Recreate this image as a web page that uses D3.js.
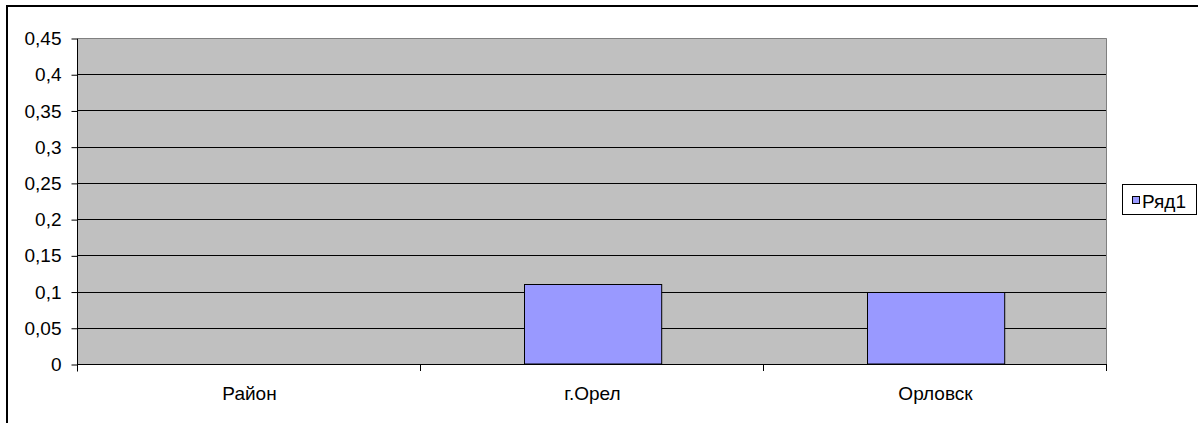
<!DOCTYPE html>
<html>
<head>
<meta charset="utf-8">
<script src="https://cdn.jsdelivr.net/npm/d3@7"></script>
<style>
  html, body { margin: 0; padding: 0; background: #ffffff; }
  svg { display: block; }
  text { font-family: "Liberation Sans", Arial, sans-serif; fill: #000; }
</style>
</head>
<body>
<svg id="chart" width="1198" height="423"></svg>
<script>
// Chart data
const categories = ["Район", "г.Орел", "Орловск"];
const seriesName = "Ряд1";
const seriesValues = [0, 0.11, 0.1];
const yTickValues = [0, 0.05, 0.1, 0.15, 0.2, 0.25, 0.3, 0.35, 0.4, 0.45];

const svg = d3.select("#chart");
const fontSize = 19;

// Plot area
const plot = { left: 78, top: 38, right: 1107, bottom: 364 };

// Comma decimal separator for tick labels
const ru = d3.formatLocale({ decimal: ",", thousands: " ", grouping: [3], currency: ["", " ₽"] });
const fmt = ru.format("~g");

const y = d3.scaleLinear().domain([0, 0.45]).range([plot.bottom, plot.top]);
const x = d3.scaleBand().domain(categories)
  .range([plot.left, plot.right])
  .paddingInner(0.6).paddingOuter(0.3);

// Outer chart frame (continues past the bottom/right edge)
svg.append("rect")
  .attr("x", 7).attr("y", 6)
  .attr("width", 1210).attr("height", 500)
  .attr("fill", "#ffffff").attr("stroke", "#000").attr("stroke-width", 2);

// Plot background
svg.append("rect")
  .attr("x", plot.left).attr("y", plot.top)
  .attr("width", plot.right - plot.left).attr("height", plot.bottom - plot.top)
  .attr("fill", "#c0c0c0");

// Horizontal gridlines
svg.append("g").selectAll("line")
  .data(yTickValues.filter(v => v > 0 && v < 0.45))
  .join("line")
  .attr("x1", plot.left).attr("x2", plot.right)
  .attr("y1", d => Math.round(y(d)) + 0.5).attr("y2", d => Math.round(y(d)) + 0.5)
  .attr("stroke", "#000").attr("stroke-width", 1);

// Plot area border (top and right)
svg.append("path")
  .attr("d", `M${plot.left},${plot.top + 0.5}H${plot.right - 0.5}V${plot.bottom}`)
  .attr("fill", "none").attr("stroke", "#808080").attr("stroke-width", 1);

// Bars
svg.append("g").selectAll("rect")
  .data(seriesValues.map((v, i) => ({ cat: categories[i], v })).filter(d => d.v > 0))
  .join("rect")
  .attr("x", d => Math.round(x(d.cat)) + 0.5)
  .attr("y", d => Math.round(y(d.v)) + 0.5)
  .attr("width", x.bandwidth())
  .attr("height", d => y(0) - Math.round(y(d.v)) - 0.5)
  .attr("fill", "#9999ff").attr("stroke", "#000").attr("stroke-width", 1);

// Y axis
const yAxis = d3.axisLeft(y).tickValues(yTickValues).tickFormat(fmt)
  .tickSizeInner(6).tickSizeOuter(0).tickPadding(10);
const gy = svg.append("g").attr("transform", `translate(${plot.left - 0.5},0.5)`).call(yAxis);
gy.select(".domain").attr("stroke", "#000").attr("d", `M0,${plot.top}V${plot.bottom + 7}`);
gy.selectAll(".tick line").attr("stroke", "#000");
gy.selectAll(".tick text").attr("font-size", fontSize)
  .attr("font-family", "Liberation Sans, Arial, sans-serif");

// X axis: ticks at category boundaries
const boundaries = categories.map(c => x(c) - x.step() * x.paddingInner() / 2);
boundaries.push(plot.right);
const gx = svg.append("g");
gx.append("line")
  .attr("x1", plot.left).attr("x2", plot.right)
  .attr("y1", plot.bottom + 0.5).attr("y2", plot.bottom + 0.5)
  .attr("stroke", "#000");
gx.selectAll("line.tick")
  .data(boundaries.slice(1))
  .join("line").attr("class", "tick")
  .attr("x1", d => Math.round(d) - 0.5).attr("x2", d => Math.round(d) - 0.5)
  .attr("y1", plot.bottom).attr("y2", plot.bottom + 7)
  .attr("stroke", "#000");
gx.selectAll("text")
  .data(categories)
  .join("text")
  .attr("x", d => x(d) + x.bandwidth() / 2)
  .attr("y", 400)
  .attr("text-anchor", "middle")
  .attr("font-size", fontSize)
  .text(d => d);

// Legend
const lg = svg.append("g");
lg.append("rect")
  .attr("x", 1122.5).attr("y", 184.5).attr("width", 74).attr("height", 30)
  .attr("fill", "#fff").attr("stroke", "#000");
lg.append("rect")
  .attr("x", 1132.5).attr("y", 196.5).attr("width", 7).attr("height", 7)
  .attr("fill", "#9999ff").attr("stroke", "#000");
lg.append("text")
  .attr("x", 1142).attr("y", 207.5)
  .attr("font-size", fontSize)
  .text(seriesName);
</script>
</body>
</html>
